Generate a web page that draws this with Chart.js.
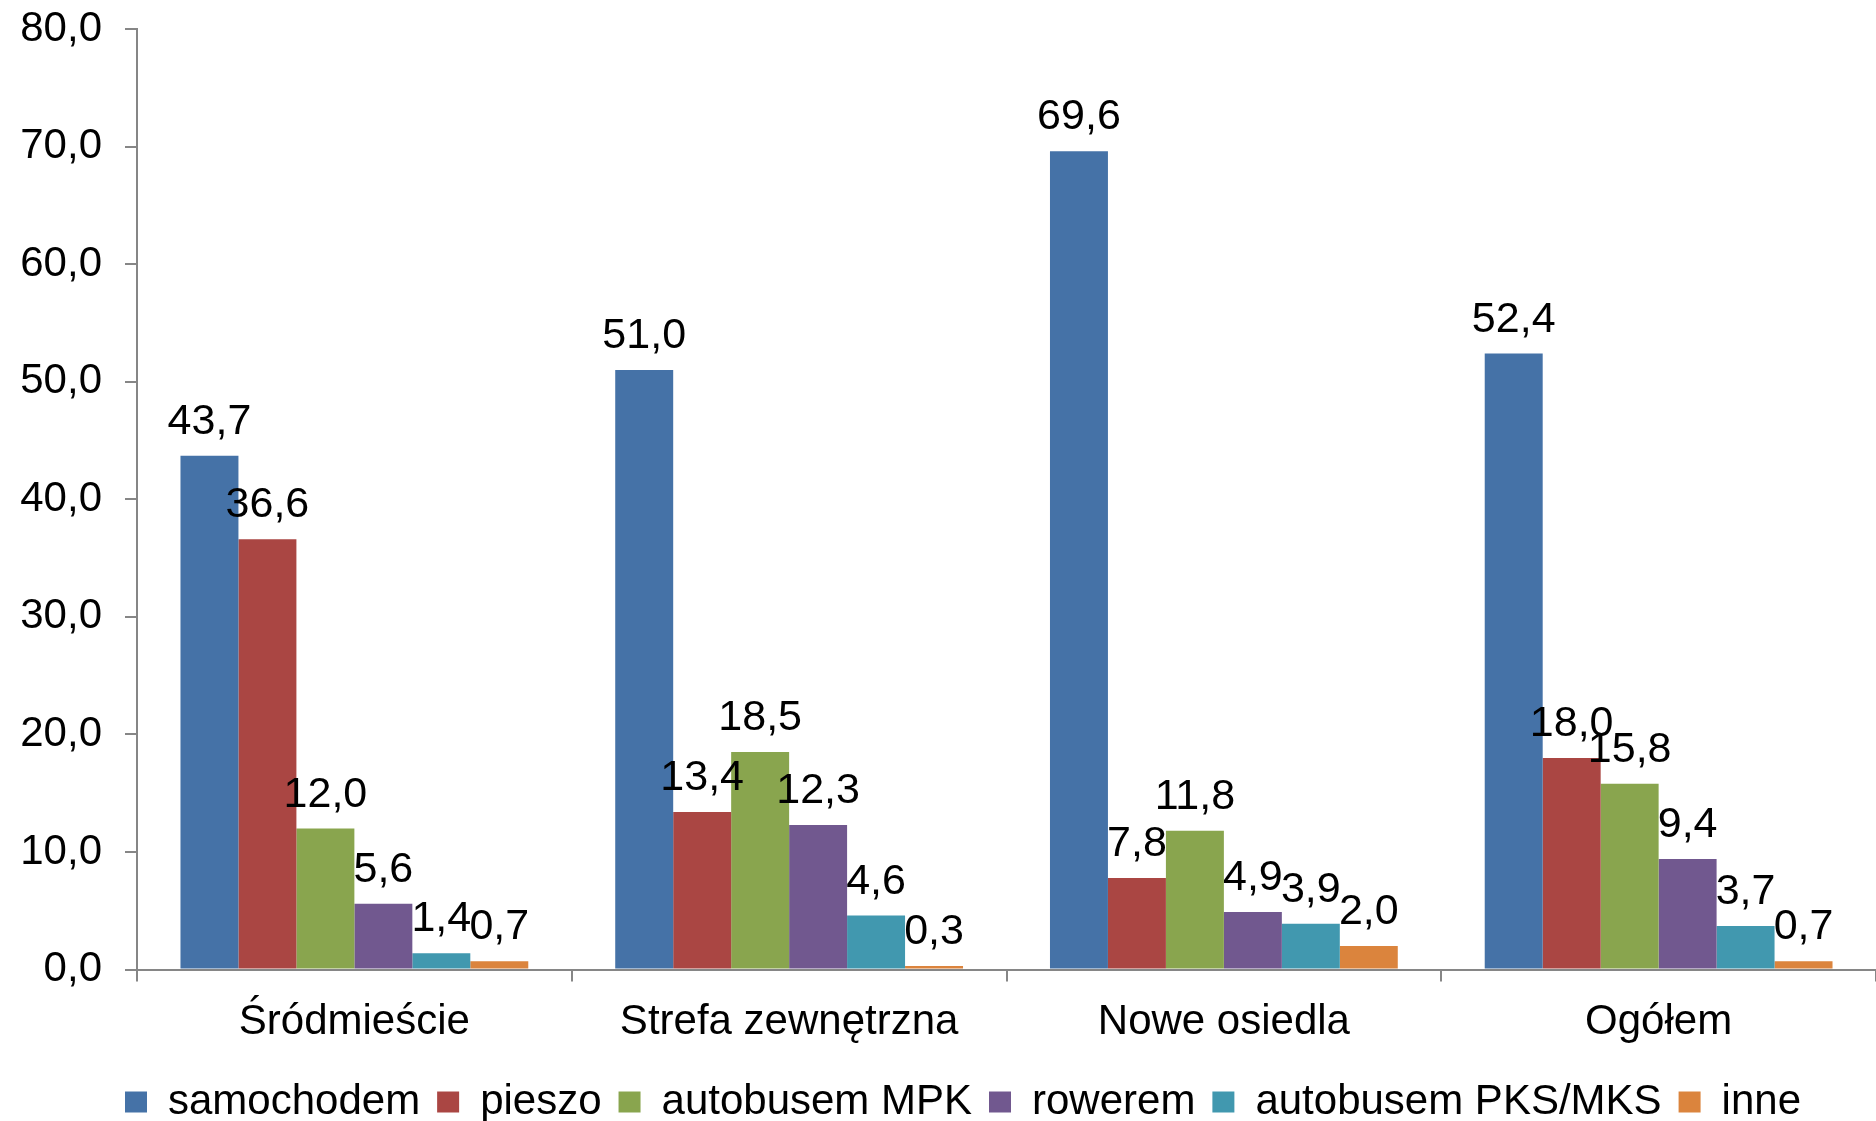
<!DOCTYPE html>
<html>
<head>
<meta charset="utf-8">
<script src="https://cdn.jsdelivr.net/npm/chart.js@4.4.1/dist/chart.umd.min.js"></script>
<style>
  html, body { margin: 0; padding: 0; background: #fff; }
  #wrap { width: 1876px; height: 1121px; }
</style>
</head>
<body>
<div id="wrap"><canvas id="chart"></canvas></div>
<script>
// Data
const categories = ['Śródmieście', 'Strefa zewnętrzna', 'Nowe osiedla', 'Ogółem'];
const samochodem = [43.7, 51.0, 69.6, 52.4];
const pieszo = [36.6, 13.4, 7.8, 18.0];
const autobusemMPK = [12.0, 18.5, 11.8, 15.8];
const rowerem = [5.6, 12.3, 4.9, 9.4];
const autobusemPKS = [1.4, 4.6, 3.9, 3.7];
const inne = [0.7, 0.3, 2.0, 0.7];
const yTicks = [0, 10, 20, 30, 40, 50, 60, 70, 80];

const FONT = '"Liberation Sans", Arial, sans-serif';
const fmt = v => v.toFixed(1).replace('.', ',');

// Draw value labels above every bar
const valueLabels = {
    id: 'valueLabels',
    afterDatasetsDraw(chart) {
        const ctx = chart.ctx;
        ctx.save();
        ctx.font = '43px ' + FONT;
        ctx.fillStyle = '#000';
        ctx.textAlign = 'center';
        ctx.textBaseline = 'alphabetic';
        chart.data.datasets.forEach((ds, i) => {
            const meta = chart.getDatasetMeta(i);
            meta.data.forEach((bar, j) => {
                ctx.fillText(fmt(ds.data[j]), bar.x, bar.y - 22);
            });
        });
        ctx.restore();
    }
};

// Nudge the legend a little to the right, like the original
const legendShift = {
    id: 'legendShift',
    afterLayout(chart) {
        if (chart.legend) {
            chart.legend.left += 50;
        }
    }
};

const axisColor = '#868686';

new Chart(document.getElementById('chart'), {
    type: 'bar',
    data: {
        labels: categories,
        datasets: [
            { label: 'samochodem', data: samochodem, backgroundColor: '#4572A7' },
            { label: 'pieszo', data: pieszo, backgroundColor: '#AA4643' },
            { label: 'autobusem MPK', data: autobusemMPK, backgroundColor: '#89A54E' },
            { label: 'rowerem', data: rowerem, backgroundColor: '#71588F' },
            { label: 'autobusem PKS/MKS', data: autobusemPKS, backgroundColor: '#4198AF' },
            { label: 'inne', data: inne, backgroundColor: '#DB843D' }
        ]
    },
    options: {
        responsive: true,
        maintainAspectRatio: false,
        animation: false,
        layout: { padding: { top: 29, right: 0, bottom: -12, left: 0 } },
        datasets: { bar: { categoryPercentage: 0.8, barPercentage: 1.0 } },
        scales: {
            x: {
                grid: { display: true, drawOnChartArea: false, offset: true, tickLength: 12, color: axisColor, lineWidth: 2 },
                border: { color: axisColor, width: 2 },
                ticks: { color: '#000', font: { family: FONT, size: 42 }, padding: 16, maxRotation: 0 }
            },
            y: {
                min: 0,
                max: 80,
                afterBuildTicks: scale => { scale.ticks = yTicks.map(v => ({ value: v })); },
                afterFit: scale => {
                    scale.width = 137;
                    scale.paddingTop = 0;
                    scale.paddingBottom = 0;
                },
                grid: { display: true, drawOnChartArea: false, tickLength: 12, color: axisColor, lineWidth: 2 },
                border: { color: axisColor, width: 2 },
                ticks: {
                    color: '#000',
                    font: { family: FONT, size: 42 },
                    padding: 23,
                    callback: v => fmt(v)
                }
            }
        },
        plugins: {
            legend: {
                position: 'bottom',
                labels: {
                    color: '#000',
                    font: { family: FONT, size: 42 },
                    boxWidth: 22,
                    boxHeight: 21,
                    padding: 17
                }
            },
            tooltip: { enabled: false }
        }
    },
    plugins: [valueLabels, legendShift]
});
</script>
</body>
</html>
